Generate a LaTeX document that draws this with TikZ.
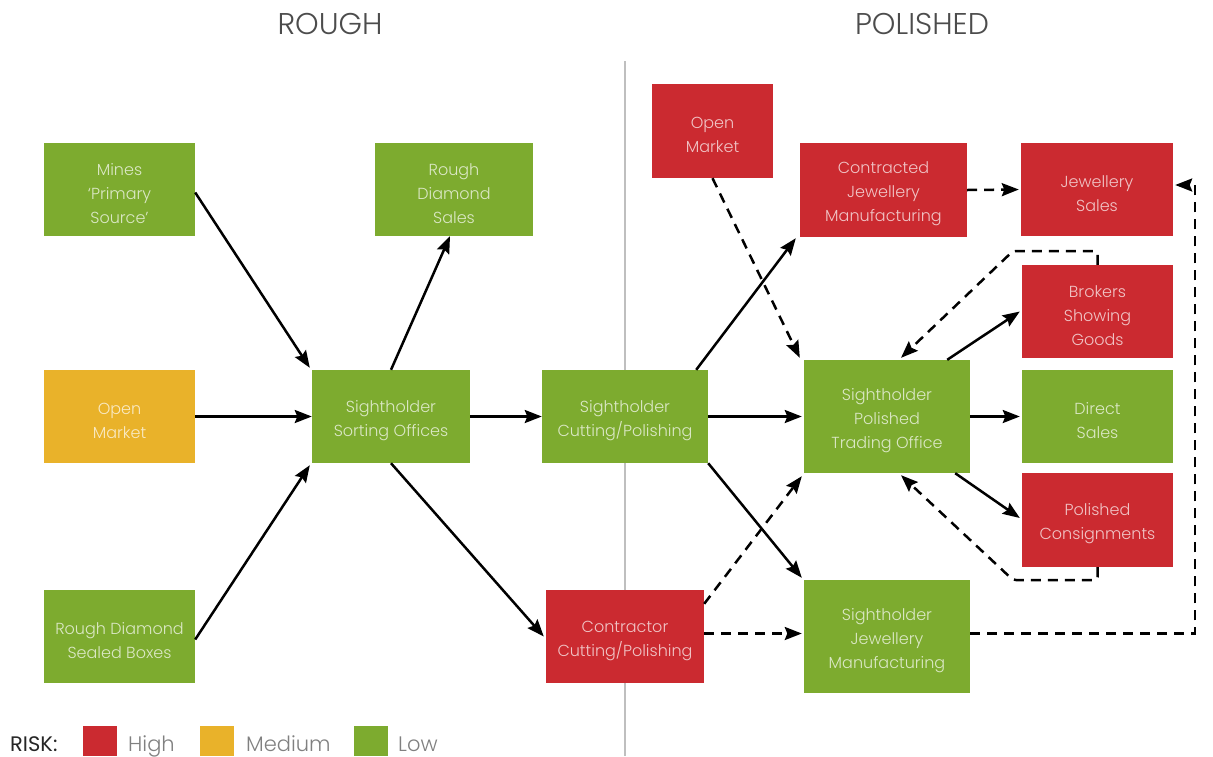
\documentclass[tikz,border=0pt]{standalone}
\usepackage{fontspec}
\setmainfont{Poppins}[UprightFont={* Light}]
\newfontfamily\regfont{Poppins}
\usetikzlibrary{arrows.meta,calc}
\definecolor{rred}{HTML}{CB2A30}
\definecolor{rgreen}{HTML}{7DAB2F}
\definecolor{ryellow}{HTML}{E9B22A}
\tikzset{
  box/.style={inner sep=0pt, minimum width=#1},
  box/.default=151pt,
  btxt/.style={inner sep=0pt, align=center, text=white, text opacity=0.72,
    font=\fontsize{16}{24}\selectfont, yshift=-4pt},
  hi/.style={fill=rred},
  med/.style={fill=ryellow},
  lo/.style={fill=rgreen},
  conn/.style={line width=2.5pt, -{Stealth[length=17pt,width=13pt,inset=2.5pt]}},
  dconn/.style={conn, dash pattern=on 10pt off 7pt},
  title/.style={text=black!70, font=\fontsize{30}{36}\selectfont},
  leg/.style={text=black!50, font=\fontsize{21}{24}\selectfont, anchor=base west, inner sep=0pt}
}
\begin{document}
\begin{tikzpicture}[x=1pt,y=-1pt]
\useasboundingbox (0,0) rectangle (1213,756);
% titles and divider
\node[title] (trough) at (330,24) {ROUGH};
\node[title] (tpol) at (922,24) {POLISHED};
\draw[black!25, line width=2.5pt] (625,61) -- (625,756);
% rough side
\node[box, lo, minimum height=93pt, label={[btxt, name=tmines]center:Mines\\‘Primary\\Source’}] (mines) at (119.5,189.5) {};
\node[box=158pt, lo, minimum height=93pt, label={[btxt, name=trds]center:Rough\\Diamond\\Sales}] (rds) at (454,189.5) {};
\node[box, med, minimum height=93pt, label={[btxt, name=tom1]center:Open\\Market}] (om1) at (119.5,416.5) {};
\node[box=158pt, lo, minimum height=93pt, label={[btxt, name=tsort]center:Sightholder\\Sorting Offices}] (sort) at (391,416.5) {};
\node[box, lo, minimum height=93pt, label={[btxt, name=tsealed]center:Rough Diamond\\Sealed Boxes}] (sealed) at (119.5,636.5) {};
\node[box=166pt, lo, minimum height=93pt, label={[btxt, name=tcut]center:Sightholder\\Cutting/Polishing}] (cut) at (625,416.5) {};
\node[box=158pt, hi, minimum height=93pt, label={[btxt, name=tcontr]center:Contractor\\Cutting/Polishing}] (contr) at (625,636.5) {};
% polished side
\node[box=121pt, hi, minimum height=94pt, label={[btxt, name=tom2]center:Open\\Market}] (om2) at (712.5,131) {};
\node[box=167pt, hi, minimum height=94pt, label={[btxt, name=tcjm]center:Contracted\\Jewellery\\Manufacturing}] (cjm) at (883.5,190) {};
\node[box=152pt, hi, minimum height=93pt, label={[btxt, name=tjs]center:Jewellery\\Sales}] (js) at (1097,189.5) {};
\node[box, hi, minimum height=93pt, label={[btxt, name=tbrok]center:Brokers\\Showing\\Goods}] (brok) at (1097.5,311.5) {};
\node[box, lo, minimum height=93pt, label={[btxt, name=tdirect]center:Direct\\Sales}] (direct) at (1097.5,416.5) {};
\node[box, hi, minimum height=94pt, label={[btxt, name=tcons]center:Polished\\Consignments}] (cons) at (1097.5,520) {};
\node[box=166pt, lo, minimum height=113pt, label={[btxt, name=ttrade]center:Sightholder\\Polished\\Trading Office}] (trade) at (887,416.5) {};
\node[box=166pt, lo, minimum height=113pt, label={[btxt, name=tjm]center:Sightholder\\Jewellery\\Manufacturing}] (jm) at (887,636.5) {};
% solid connectors
\draw[conn] ([yshift=-3pt]mines.east) -- ([xshift=-2pt,yshift=2pt]sort.north west);
\draw[conn] (om1.east) -- (sort.west);
\draw[conn] ([yshift=-3pt]sealed.east) -- ([xshift=-2pt,yshift=-2pt]sort.south west);
\draw[conn] (sort.north) -- ([xshift=-4pt]rds.south);
\draw[conn] (sort.east) -- (cut.west);
\draw[conn] (sort.south) -- ([xshift=-2pt]contr.west);
\draw[conn] ([xshift=-12pt]cut.north east) -- ([xshift=-4pt,yshift=-1pt]cjm.south west);
\draw[conn] (cut.east) -- ([xshift=-2pt]trade.west);
\draw[conn] (cut.south east) -- ([xshift=-2pt,yshift=2pt]jm.north west);
\draw[conn] ([xshift=-23pt]trade.north east) -- ([xshift=-2pt]brok.west);
\draw[conn] (trade.east) -- ([xshift=-2pt]direct.west);
\draw[conn] ([xshift=-15pt]trade.south east) -- ([xshift=-2pt,yshift=2pt]cons.west);
% dashed connectors
\draw[dconn] (om2.south) -- ([xshift=-4pt,yshift=2pt]trade.north west);
\draw[dconn] (cjm.east) -- ([xshift=-2pt]js.west);
\draw[dconn] ($(contr.north east)!0.15!(contr.south east)$) -- ([xshift=-2pt,yshift=-3pt]trade.south west);
\draw[dconn] ([yshift=3pt]contr.east) -- ([xshift=-2pt,yshift=3pt]jm.west);
\coordinate (jc) at (1195,185);
\draw[dconn] ([yshift=3pt]jm.east) -| (jc) -- ([xshift=2pt,yshift=4.5pt]js.east);
\coordinate (lt1) at (1097.5,251);
\coordinate (lt2) at (1013,251);
\draw[dconn, rounded corners=3pt] (brok.north) -- (lt1) -- (lt2) -- ([xshift=14pt,yshift=2pt]trade.north);
\coordinate (lb1) at (1097.5,580);
\coordinate (lb2) at (1013,580);
\draw[dconn, rounded corners=3pt] (cons.south) -- (lb1) -- (lb2) -- ([xshift=14pt,yshift=-2pt]trade.south);
% legend
\node[anchor=base west, inner sep=0pt, text=black!85, font=\regfont\fontsize{21}{24}\selectfont] (risk) at (10,751) {RISK:};
\fill[rred] (83,726) rectangle (117,756);
\node[leg] (lhigh) at (128,751) {High};
\fill[ryellow] (200,726) rectangle (234,756);
\node[leg] (lmed) at (246,751) {Medium};
\fill[rgreen] (354,726) rectangle (388,756);
\node[leg] (llow) at (398,751) {Low};
\end{tikzpicture}
\end{document}
